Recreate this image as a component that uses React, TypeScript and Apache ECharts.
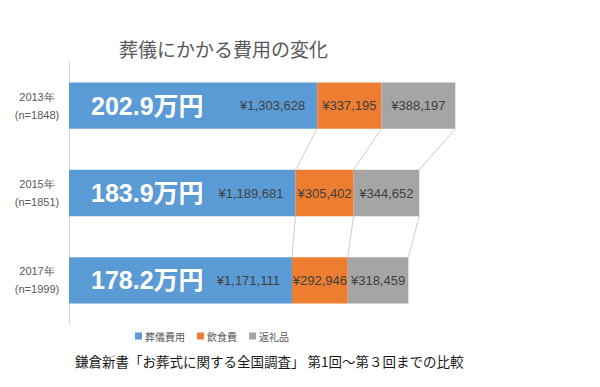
import React, { useEffect, useRef } from "react";
import * as echarts from "echarts";

const years = ["2013年", "2015年", "2017年"];
const sampleSizes = [1848, 1851, 1999];
const funeralCost = [1303628, 1189681, 1171111];
const foodCost = [337195, 305402, 292946];
const giftCost = [388197, 344652, 318459];
const totalsMan = ["202.9", "183.9", "178.2"];
const seriesNames = ["葬儀費用", "飲食費", "返礼品"];
const titleText = "葬儀にかかる費用の変化";
const captionText = "鎌倉新書「お葬式に関する全国調査」 第1回～第３回までの比較";

const COLORS = ["#5B9BD5", "#ED7D31", "#A5A5A5"];
const BAR_RATIO = 0.53;

function yen(v: number) {
  return "¥" + v.toLocaleString("en-US");
}

export default function App() {
  const ref = useRef<HTMLDivElement>(null);
  useEffect(() => {
    if (!ref.current) return;
    document.body.style.margin = "0";
    const chart = echarts.init(ref.current, null, { renderer: "svg" });
    const categories = years.map((y, i) => `${y}\n(n=${sampleSizes[i]})`);
    const segs = [funeralCost, foodCost, giftCost];
    const connectors: number[][] = [];
    for (let i = 0; i < years.length - 1; i++) {
      let a = 0;
      let b = 0;
      for (let k = 0; k < segs.length; k++) {
        a += segs[k][i];
        b += segs[k][i + 1];
        connectors.push([i, a, b]);
      }
    }
    const smallLabel = { fontSize: 13, color: "#404040", fontFamily: "Liberation Sans" };
    chart.setOption({
      animation: false,
      title: [
        {
          text: titleText,
          left: 114,
          top: 34,
          textStyle: { fontSize: 19, fontWeight: "normal", color: "#595959", fontFamily: "Noto Sans CJK JP" },
        },
        {
          text: captionText,
          left: 70,
          top: 349,
          textStyle: { fontSize: 13.5, fontWeight: "normal", color: "#1a1a1a", fontFamily: "Noto Sans CJK JP" },
        },
      ],
      legend: {
        data: seriesNames,
        left: 130,
        top: 326,
        itemWidth: 7,
        itemHeight: 7,
        itemGap: 12,
        icon: "rect",
        textStyle: { fontSize: 10, color: "#595959", fontFamily: "Noto Sans CJK JP", padding: [0, 0, 0, -2] },
      },
      grid: { left: 69, top: 62, width: 495, height: 262 },
      xAxis: {
        type: "value",
        min: 0,
        max: 2600000,
        show: false,
        splitLine: { show: false },
      },
      yAxis: {
        type: "category",
        inverse: true,
        data: categories,
        axisLine: { lineStyle: { color: "#d9d9d9" } },
        axisTick: { show: false },
        axisLabel: {
          fontSize: 11,
          color: "#595959",
          lineHeight: 18,
          align: "center",
          margin: 32,
          fontFamily: "Liberation Sans",
        },
      },
      series: [
        {
          name: seriesNames[0],
          type: "bar",
          stack: "total",
          barWidth: `${BAR_RATIO * 100}%`,
          data: funeralCost,
          itemStyle: { color: COLORS[0] },
          label: {
            show: true,
            position: "insideRight",
            distance: 12,
            formatter: (p: any) => yen(p.value),
            ...smallLabel,
          },
        },
        {
          name: seriesNames[1],
          type: "bar",
          stack: "total",
          data: foodCost,
          itemStyle: { color: COLORS[1] },
          label: { show: true, position: "inside", formatter: (p: any) => yen(p.value), ...smallLabel },
        },
        {
          name: seriesNames[2],
          type: "bar",
          stack: "total",
          data: giftCost,
          itemStyle: { color: COLORS[2] },
          label: { show: true, position: "inside", formatter: (p: any) => yen(p.value), ...smallLabel },
        },
        {
          name: "total",
          type: "bar",
          barGap: "-100%",
          barWidth: `${BAR_RATIO * 100}%`,
          data: funeralCost,
          itemStyle: { color: "rgba(0,0,0,0)" },
          silent: true,
          z: 5,
          label: {
            show: true,
            position: "insideLeft",
            distance: 22,
            formatter: (p: any) => totalsMan[p.dataIndex] + "万円",
            fontSize: 25,
            fontWeight: "bold",
            color: "#ffffff",
            fontFamily: "Liberation Sans, Noto Sans CJK JP",
          },
        },
        {
          name: "connectors",
          type: "custom",
          silent: true,
          data: connectors,
          encode: { y: 0, x: [1, 2] },
          renderItem: (params: any, api: any) => {
            const cat = api.value(0);
            const p1 = api.coord([api.value(1), cat]);
            const p2 = api.coord([api.value(2), cat + 1]);
            const band = api.size([0, 1])[1];
            const half = (band * BAR_RATIO) / 2;
            return {
              type: "line",
              shape: { x1: p1[0], y1: p1[1] + half, x2: p2[0], y2: p2[1] - half },
              style: { stroke: "#cccccc", lineWidth: 1 },
            };
          },
        },
      ],
    });
    return () => chart.dispose();
  }, []);
  return <div ref={ref} style={{ width: 600, height: 387 }} />;
}
